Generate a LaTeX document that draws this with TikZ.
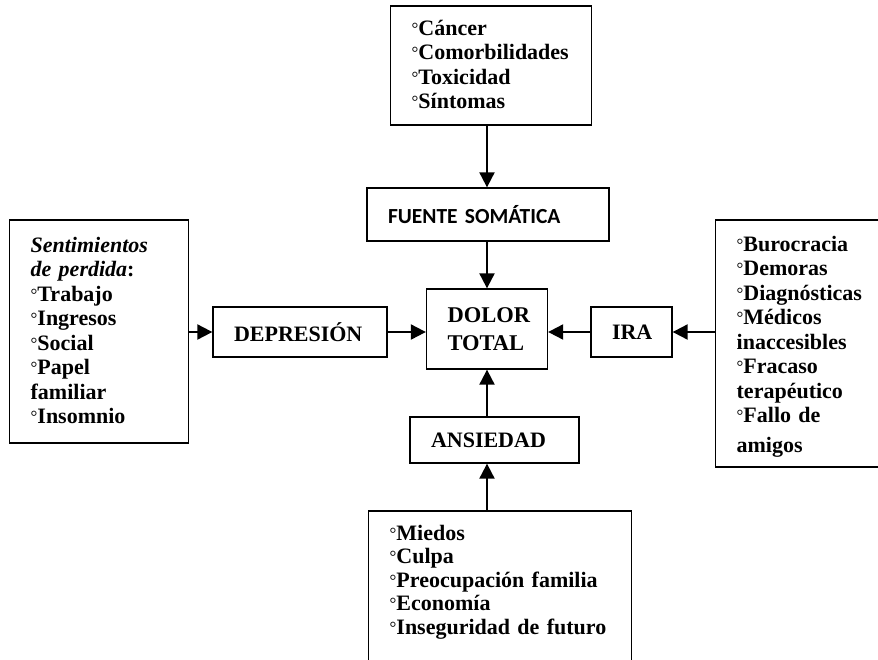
\documentclass[tikz,border=0pt]{standalone}
\usepackage{fontspec}
\setmainfont{Liberation Serif}
\newfontfamily\calibri{Carlito}
\usetikzlibrary{arrows.meta}
\newcommand{\vin}{{\mdseries\fontsize{17}{0}\selectfont\raisebox{1pt}{°}}}

\begin{document}
\begin{tikzpicture}[x=1pt, y=-1pt,
  every node/.style={font=\fontsize{22}{24.5}\selectfont\bfseries},
  caja/.style={draw, line width=1.3pt, inner xsep=21pt, inner ysep=0pt, align=left, text width=#1},
  flecha/.style={-{Triangle[length=15pt,width=15pt]}, line width=2pt}]
  \fill[white] (0,0) rectangle (878,659);
  \useasboundingbox (0,0) rectangle (878,659);
  \clip (0,0) rectangle (878,659);
  % cajas centrales
  \node[caja=200pt, minimum height=53pt, font=\fontsize{21.5}{24.5}\selectfont\calibri\bfseries] (fuente) at (488,214.5) {FUENTE SOMÁTICA};
  \node[caja=79pt, minimum height=80pt, font=\fontsize{22.5}{28}\selectfont\bfseries] (dolor) at (487,329) {DOLOR\\TOTAL};
  \node[caja=132pt, minimum height=50pt] (depresion) at (300,332) {DEPRESIÓN};
  \node[caja=39pt, minimum height=50pt] (ira) at (631.5,332) {IRA};
  \node[caja=127pt, minimum height=46pt] (ansiedad) at (494.5,440) {ANSIEDAD};
  % listas
  \node[caja=159pt, anchor=base west, text height=29pt, text depth=90pt] (somaticas) at (390,35)
    {\vin Cáncer\\\vin Comorbilidades\\\vin Toxicidad\\\vin Síntomas};
  \node[caja=137pt, anchor=base west, text height=32pt, text depth=191pt] (perdidas) at (9,252)
    {\textit{Sentimientos}\\\textit{de perdida}:\\\vin Trabajo\\\vin Ingresos\\\vin Social\\\vin Papel\\familiar\\\vin Insomnio};
  \node[caja=148pt, anchor=base west, text height=31pt, text depth=216pt] (frustracion) at (715,251)
    {\vin Burocracia\\\vin Demoras\\\vin Diagnósticas\\\vin Médicos\\inaccesibles\\\vin Fracaso\\terapéutico\\\vin Fallo de\\[5pt]amigos};
  \node[caja=221pt, anchor=base west, text height=29pt, text depth=160pt] (inquietudes) at (368,540)
    {\vin Miedos\\[-1pt]\vin Culpa\\[-1pt]\vin Preocupación familia\\[-1pt]\vin Economía\\[-1pt]\vin \mbox{Inseguridad de futuro}};
  % flechas
  \draw[flecha] (dolor |- somaticas.south) -- (dolor |- fuente.north);
  \draw[flecha] (dolor |- fuente.south) -- (dolor.north);
  \draw[flecha] (perdidas.east |- depresion) -- (depresion.west);
  \draw[flecha] (depresion.east) -- (depresion.east -| dolor.west);
  \draw[flecha] (frustracion.west |- ira) -- (ira.east);
  \draw[flecha] (ira.west) -- (ira.west -| dolor.east);
  \draw[flecha] (dolor |- inquietudes.north) -- (dolor |- ansiedad.south);
  \draw[flecha] (dolor |- ansiedad.north) -- (dolor.south);
\end{tikzpicture}
\end{document}
